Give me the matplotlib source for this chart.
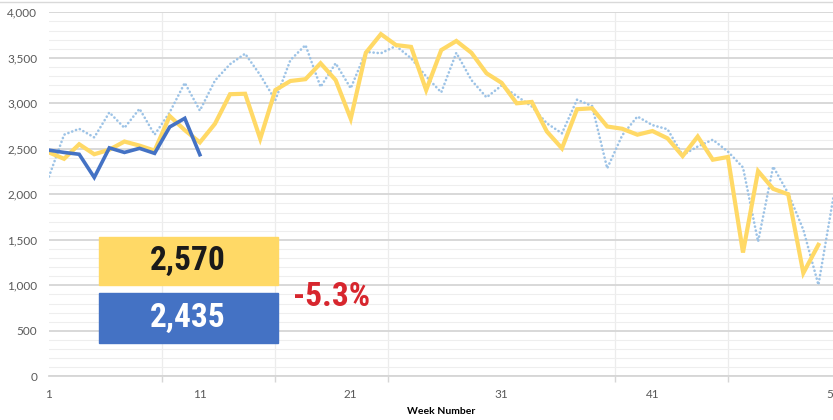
import numpy as np
import matplotlib.pyplot as plt
from matplotlib import font_manager
from matplotlib.lines import Line2D
from matplotlib.patches import Rectangle
from matplotlib.ticker import FuncFormatter, MultipleLocator, FixedLocator

# ==================================================
# Data (weekly values)
# ==================================================
weeks_prior = np.arange(1, 54)
prior_year = [
    2195, 2655, 2720, 2625, 2900, 2730, 2940, 2655, 2900, 3225,
    2920, 3250, 3430, 3545, 3310, 3035, 3475, 3640, 3180, 3440,
    3165, 3565, 3550, 3630, 3495, 3295, 3120, 3555, 3255, 3065,
    3195, 3080, 2965, 2780, 2670, 3040, 2970, 2285, 2650, 2855,
    2760, 2715, 2430, 2525, 2600, 2470, 2295, 1480, 2305, 2010,
    1610, 1005, 1975,
]

weeks_last = np.arange(1, 53)
last_year = [
    2460, 2390, 2550, 2440, 2490, 2580, 2535, 2480, 2860, 2705,
    2570, 2775, 3100, 3105, 2610, 3145, 3245, 3265, 3440, 3255,
    2830, 3555, 3760, 3640, 3620, 3145, 3585, 3685, 3555, 3330,
    3225, 3000, 3015, 2690, 2505, 2935, 2945, 2745, 2720, 2655,
    2695, 2615, 2420, 2635, 2380, 2410, 1360, 2255, 2060, 2000,
    1135, 1445,
]

weeks_this = np.arange(1, 12)
this_year = [2485, 2460, 2440, 2185, 2510, 2460, 2505, 2450, 2740, 2835, 2435]

tick_weeks = [1, 11, 21, 31, 41, 53]
grid_weeks = [1, 8.5, 16, 23.5, 31, 38.5, 46, 53.5]

last_value = 2570
this_value = 2435
change = (this_value - last_value) / last_value * 100

# ==================================================
# Fonts: pick a condensed bold face for the big numbers if one exists
# ==================================================
ttf = font_manager.fontManager.ttflist
names = {f.name for f in ttf}
box_kw = dict(family=["Roboto", "DejaVu Sans"], fontsize=21, fontweight="bold")
for cand in ["Liberation Sans Narrow", "Roboto Condensed", "Open Sans Condensed",
             "Noto Sans Condensed", "DejaVu Sans Condensed", "Arial Narrow"]:
    if cand in names:
        box_kw = dict(family=[cand, "DejaVu Sans"], fontsize=24, fontweight="bold")
        break
else:
    for f in ttf:
        if "condensed" in str(f.stretch) and "bold" in str(f.weight).lower() or (
                "condensed" in str(f.stretch) and f.weight in (600, 700, 800)):
            box_kw = dict(family=[f.name, "DejaVu Sans"], fontsize=24,
                          fontweight="bold", fontstretch="condensed")
            break

# ==================================================
# Figure
# ==================================================
W, H = 833, 420
YELLOW = "#FFD966"
BLUE = "#4472C4"
LIGHT_BLUE = "#9DC3E6"
GRAY_TXT = "#595959"

plt.rcParams["font.family"] = ["Lato", "DejaVu Sans"]

fig = plt.figure(figsize=(W / 100, H / 100), dpi=100)
ax = fig.add_axes([49 / W, 1 - 376.3 / H, (833.5 - 49) / W, (376.3 - 12.3) / H])

ax.plot(weeks_prior, prior_year, color=LIGHT_BLUE, lw=1.9,
        linestyle=(0, (0.05, 1.5)), dash_capstyle="round", zorder=2)
ax.plot(weeks_last, last_year, color=YELLOW, lw=3.0,
        solid_joinstyle="miter", zorder=3)
ax.plot(weeks_this, this_year, color=BLUE, lw=2.6,
        solid_joinstyle="miter", zorder=4)

ax.set_xlim(1, 53)
ax.set_ylim(0, 4000)

ax.yaxis.set_major_locator(MultipleLocator(500))
ax.yaxis.set_minor_locator(MultipleLocator(100))
ax.yaxis.set_major_formatter(FuncFormatter(lambda v, p: f"{v:,.0f}"))
ax.xaxis.set_major_locator(FixedLocator(tick_weeks))
ax.xaxis.set_minor_locator(FixedLocator(grid_weeks))

ax.grid(which="major", axis="y", color="#d6d6d6", lw=1.3, zorder=0)
ax.grid(which="minor", axis="y", color="#eeeeee", lw=0.8, zorder=0)
ax.grid(which="minor", axis="x", color="#ececec", lw=0.9, zorder=0)
ax.set_axisbelow(True)

for s in ["top", "right", "left"]:
    ax.spines[s].set_visible(False)
ax.spines["bottom"].set_color("#d6d6d6")
ax.spines["bottom"].set_linewidth(1.3)

ax.tick_params(axis="y", which="both", length=0, pad=8.5,
               labelsize=8.5, labelcolor=GRAY_TXT)
ax.tick_params(axis="x", which="major", length=0, pad=9,
               labelsize=8.5, labelcolor=GRAY_TXT)
ax.tick_params(axis="x", which="minor", length=4, color="#d6d6d6", width=1)

fig.text(441 / W, 1 - 411 / H, "Week Number", ha="center", va="center",
         fontsize=7.5, fontweight="bold", color="black")

# top border of the chart area
fig.add_artist(Line2D([0, 1], [1 - 2 / H, 1 - 2 / H], color="#d9d9d9", lw=1))

# ==================================================
# Summary boxes
# ==================================================
fig.add_artist(Rectangle((99 / W, 1 - 285 / H), 179 / W, 48 / H,
                         transform=fig.transFigure, color=YELLOW, zorder=5))
fig.add_artist(Rectangle((99 / W, 1 - 342.7 / H), 179 / W, 49.7 / H,
                         transform=fig.transFigure, color=BLUE, zorder=5))

fig.text(188 / W, 1 - 261 / H, f"{last_value:,}", ha="center", va="center",
         color="#1a1a1a", zorder=6, **box_kw)
fig.text(188 / W, 1 - 318 / H, f"{this_value:,}", ha="center", va="center",
         color="white", zorder=6, **box_kw)
fig.text(332 / W, 1 - 297 / H, f"{change:.1f}%", ha="center", va="center",
         color="#D7262E", zorder=6, **box_kw)

fig.savefig("out.png", dpi=100)
